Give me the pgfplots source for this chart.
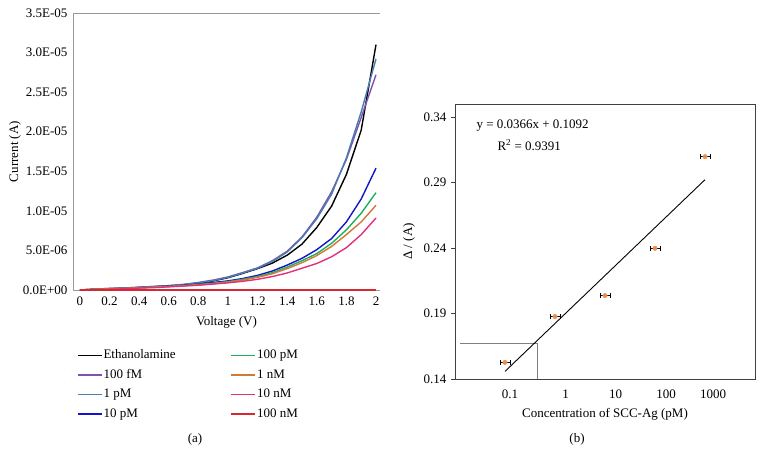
\documentclass[border=0pt]{standalone}
\usepackage{pgfplots}
\pgfplotsset{compat=1.18}
\usepackage{fontspec}
\setmainfont{Liberation Serif}
\definecolor{cpurple}{HTML}{7F52B2}
\definecolor{csteel}{HTML}{4A7EB0}
\definecolor{cblue}{HTML}{1414C8}
\definecolor{cgreen}{HTML}{1FAE5E}
\definecolor{corange}{HTML}{D07A3A}
\definecolor{cpink}{HTML}{E2307C}
\definecolor{cred}{HTML}{D8282E}
\definecolor{cmark}{HTML}{EE8A4A}
\begin{document}
\fontsize{13}{15.6}\selectfont
\begin{tikzpicture}[x=1pt,y=1pt]
\path[use as bounding box] (0,0) rectangle (764,466);
\begin{axis}[
  at={(73pt,176pt)}, anchor=south west, scale only axis,
  width=307pt, height=277pt,
  font=\fontsize{13}{15.6}\selectfont,
  xmin=-0.047, xmax=2.027, ymin=0, ymax=3.5e-5,
  clip=false,
  axis line style={draw=none},
  major tick length=0pt,
  scaled y ticks=false,
  xtick={0,0.2,0.4,0.6,0.8,1,1.2,1.4,1.6,1.8,2},
  xticklabels={0,0.2,0.4,0.6,0.8,1,1.2,1.4,1.6,1.8,2},
  ytick={0,5e-6,1e-5,1.5e-5,2e-5,2.5e-5,3e-5,3.5e-5},
  yticklabels={0.0E+00,5.0E-06,1.0E-05,1.5E-05,2.0E-05,2.5E-05,3.0E-05,3.5E-05},
  xticklabel style={yshift=-2pt},
  yticklabel style={xshift=-1pt},
  xlabel={Voltage (V)}, ylabel={Current (A)},
  xlabel style={at={(axis description cs:0.5,-0.1155)}, anchor=center},
  ylabel style={at={(axis description cs:-0.189,0.5)}, anchor=center},
  legend columns=2,
  legend cell align=left,
  legend style={at={(axis description cs:0.003,-0.2017)}, anchor=north west, draw=none, fill=none,
    row sep=5pt, nodes={inner sep=1pt, text height=9.5pt, text depth=3pt},
    /tikz/every even column/.append style={column sep=54pt}},
  legend image code/.code={\draw[#1] (-4pt,0pt) -- (20pt,0pt);},
  every axis plot/.append style={line width=1.4pt},
]
\draw[gray!80, line width=0.8pt] (rel axis cs:0,0) -- (rel axis cs:0,1) -- (rel axis cs:1,1);
\draw[gray!80, line width=0.8pt] (rel axis cs:0,0) -- (rel axis cs:1,0);
\addplot[black, forget plot] coordinates {(0,0) (0.1,0.05e-6) (0.2,0.15e-6) (0.3,0.2e-6) (0.4,0.3e-6) (0.5,0.4e-6) (0.6,0.5e-6) (0.7,0.65e-6) (0.8,0.85e-6) (0.9,1.15e-6) (1.0,1.55e-6) (1.1,2.1e-6) (1.2,2.7e-6) (1.3,3.4e-6) (1.4,4.4e-6) (1.5,5.8e-6) (1.6,7.9e-6) (1.7,10.6e-6) (1.8,14.6e-6) (1.9,20.2e-6) (2.0,31.0e-6)};
\addplot[cpurple, forget plot] coordinates {(0,0) (0.1,0.1e-6) (0.2,0.2e-6) (0.3,0.25e-6) (0.4,0.35e-6) (0.5,0.45e-6) (0.6,0.55e-6) (0.7,0.7e-6) (0.8,0.95e-6) (0.9,1.25e-6) (1.0,1.65e-6) (1.1,2.2e-6) (1.2,2.8e-6) (1.3,3.7e-6) (1.4,4.9e-6) (1.5,6.7e-6) (1.6,9.2e-6) (1.7,12.4e-6) (1.8,16.5e-6) (1.9,21.8e-6) (2.0,27.2e-6)};
\addplot[csteel, forget plot] coordinates {(0,0) (0.1,0.1e-6) (0.2,0.2e-6) (0.3,0.25e-6) (0.4,0.35e-6) (0.5,0.45e-6) (0.6,0.55e-6) (0.7,0.7e-6) (0.8,0.9e-6) (0.9,1.2e-6) (1.0,1.6e-6) (1.1,2.15e-6) (1.2,2.75e-6) (1.3,3.6e-6) (1.4,4.8e-6) (1.5,6.6e-6) (1.6,9.0e-6) (1.7,12.1e-6) (1.8,16.7e-6) (1.9,22.5e-6) (2.0,29.2e-6)};
\addplot[cblue, forget plot] coordinates {(0,0) (0.1,0.1e-6) (0.2,0.15e-6) (0.3,0.2e-6) (0.4,0.3e-6) (0.5,0.4e-6) (0.6,0.5e-6) (0.7,0.6e-6) (0.8,0.75e-6) (0.9,0.95e-6) (1.0,1.15e-6) (1.1,1.45e-6) (1.2,1.85e-6) (1.3,2.4e-6) (1.4,3.15e-6) (1.5,4.0e-6) (1.6,5.1e-6) (1.7,6.5e-6) (1.8,8.6e-6) (1.9,11.5e-6) (2.0,15.4e-6)};
\addplot[cgreen, forget plot] coordinates {(0,0) (0.1,0.1e-6) (0.2,0.15e-6) (0.3,0.2e-6) (0.4,0.3e-6) (0.5,0.4e-6) (0.6,0.45e-6) (0.7,0.55e-6) (0.8,0.7e-6) (0.9,0.85e-6) (1.0,1.05e-6) (1.1,1.35e-6) (1.2,1.7e-6) (1.3,2.2e-6) (1.4,2.9e-6) (1.5,3.7e-6) (1.6,4.6e-6) (1.7,5.9e-6) (1.8,7.6e-6) (1.9,9.7e-6) (2.0,12.3e-6)};
\addplot[corange, forget plot] coordinates {(0,0) (0.1,0.1e-6) (0.2,0.15e-6) (0.3,0.2e-6) (0.4,0.3e-6) (0.5,0.35e-6) (0.6,0.45e-6) (0.7,0.55e-6) (0.8,0.65e-6) (0.9,0.8e-6) (1.0,1.0e-6) (1.1,1.25e-6) (1.2,1.6e-6) (1.3,2.05e-6) (1.4,2.7e-6) (1.5,3.45e-6) (1.6,4.35e-6) (1.7,5.5e-6) (1.8,7.0e-6) (1.9,8.6e-6) (2.0,10.7e-6)};
\addplot[cpink, forget plot] coordinates {(0,0) (0.1,0.05e-6) (0.2,0.1e-6) (0.3,0.15e-6) (0.4,0.25e-6) (0.5,0.3e-6) (0.6,0.4e-6) (0.7,0.5e-6) (0.8,0.6e-6) (0.9,0.75e-6) (1.0,0.9e-6) (1.1,1.1e-6) (1.2,1.35e-6) (1.3,1.7e-6) (1.4,2.15e-6) (1.5,2.75e-6) (1.6,3.35e-6) (1.7,4.2e-6) (1.8,5.35e-6) (1.9,7.0e-6) (2.0,9.1e-6)};
\addplot[cred, forget plot] coordinates {(0,0) (0.2,0) (0.4,0) (0.6,0) (0.8,0) (1.0,0) (1.2,0) (1.4,0) (1.6,0) (1.8,0) (2.0,0)};
\addlegendimage{black, line width=1.4pt}\addlegendentry{Ethanolamine}
\addlegendimage{cgreen, line width=1.4pt}\addlegendentry{100 pM}
\addlegendimage{cpurple, line width=1.4pt}\addlegendentry{100 fM}
\addlegendimage{corange, line width=1.4pt}\addlegendentry{1 nM}
\addlegendimage{csteel, line width=1.4pt}\addlegendentry{1 pM}
\addlegendimage{cpink, line width=1.4pt}\addlegendentry{10 nM}
\addlegendimage{cblue, line width=1.4pt}\addlegendentry{10 pM}
\addlegendimage{cred, line width=1.4pt}\addlegendentry{100 nM}
\end{axis}
\node at (195,27) {(a)};
\begin{axis}[
  at={(455pt,87pt)}, anchor=south west, scale only axis,
  width=300pt, height=275pt,
  font=\fontsize{13}{15.6}\selectfont,
  xmin=0, xmax=6, ymin=0.14, ymax=0.35,
  axis line style={black!75, line width=0.8pt},
  xtick={1.1,2.21,3.21,4.22,5.16},
  xticklabels={0.1,1,10,100,1000},
  xtick style={draw=none},
  ytick={0.14,0.19,0.24,0.29,0.34},
  yticklabels={0.14,0.19,0.24,0.29,0.34},
  ytick pos=left, tick align=outside,
  major tick length=4pt,
  ytick style={black!75, line width=0.6pt},
  xticklabel style={yshift=-2pt},
  xlabel={Concentration of SCC-Ag (pM)}, ylabel={Δ / (A)},
  xlabel style={at={(axis description cs:0.5,-0.127)}, anchor=center},
  ylabel style={at={(axis description cs:-0.153,0.5)}, anchor=center},
]
\addplot[gray, line width=0.8pt] coordinates {(0.1,0.1669) (1.646,0.1669) (1.646,0.14)};
\addplot[black, line width=0.9pt] coordinates {(1,0.1458) (5,0.2922)};
\addplot[only marks, mark=*, mark size=2.2pt, mark options={draw=cmark, fill=cmark},
  error bars/.cd, x dir=both, x explicit,
  error bar style={black, line width=0.7pt},
  error mark options={rotate=90, mark size=2.5pt, black, line width=0.7pt}]
  coordinates {
  (1,0.1527) +- (0.1,0)
  (2,0.1877) +- (0.1,0)
  (3,0.2037) +- (0.1,0)
  (4,0.2398) +- (0.1,0)
  (5,0.3098) +- (0.1,0)
  };
\node[anchor=west] at (axis cs:0.34,0.3337) {y = 0.0366x + 0.1092};
\node[anchor=west] at (axis cs:0.76,0.3185) {R\textsuperscript{2} = 0.9391};
\end{axis}
\node at (577,27) {(b)};
\end{tikzpicture}
\end{document}
